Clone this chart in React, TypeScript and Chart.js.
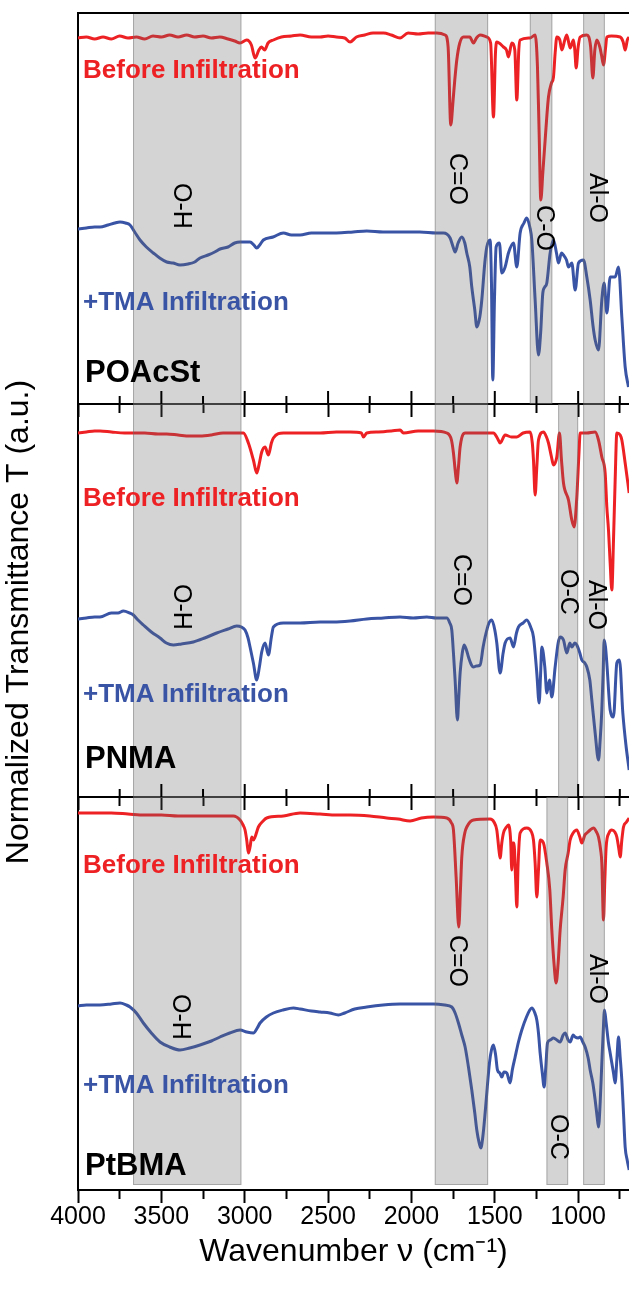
import React, { useEffect, useRef } from 'react';
import { Chart, registerables } from 'chart.js';

Chart.register(...registerables);

const W = 629;
const H = 1298;
const FONT = "'Liberation Sans', Arial, Helvetica, sans-serif";
const RED = '#ED2124';
const BLUE = '#3A54A5';

// ---- axes ----
const X_MIN = 695;
const X_MAX = 4000;
const X_TICKS = [4000, 3750, 3500, 3250, 3000, 2750, 2500, 2250, 2000, 1750, 1500, 1250, 1000, 750];
const X_LABELED = [4000, 3500, 3000, 2500, 2000, 1500, 1000];
const X_TITLE = 'Wavenumber ν (cm⁻¹)';
const Y_TITLE = 'Normalized Transmittance T (a.u.)';
const SERIES_LABELS = ['Before Infiltration', '+TMA Infiltration'];
const POLYMERS = ['POAcSt', 'PNMA', 'PtBMA'];

// ---- spectra: [wavenumber, normalized transmittance (a.u., per panel)] ----
const poacstBefore = [
  [4000,366],[3950,367],[3900,365],[3850,367],[3800,365],[3750,368],[3700,366],[3650,367],[3600,365],[3550,368],
  [3500,367],[3450,369],[3400,367],[3348,369],[3300,367],[3250,368],[3200,366],[3150,367],[3100,365],[3060,363],
  [3028,361],[2988,364],[2960,359],[2938,346],[2915,354],[2900,357],[2880,354],[2860,361],[2828,364],[2780,367],
  [2720,368],[2668,369],[2600,367],[2548,367],[2500,368],[2450,367],[2400,366],[2368,362],[2330,367],[2280,369],
  [2230,371],[2168,371],[2120,369],[2068,366],[2020,371],[1960,370],[1900,371],[1848,371],[1798,369],[1780,357],
  [1764,279],[1750,304],[1740,324],[1728,344],[1710,361],[1688,367],[1650,367],[1628,361],[1610,366],[1588,369],
  [1548,367],[1525,361],[1508,287],[1496,351],[1488,362],[1448,357],[1430,354],[1418,347],[1398,361],[1380,354],
  [1368,304],[1356,354],[1348,364],[1288,366],[1258,369],[1244,337],[1234,271],[1224,204],[1212,231],[1198,264],
  [1178,307],[1160,321],[1148,327],[1138,351],[1128,367],[1110,364],[1098,354],[1080,364],[1068,369],[1048,356],
  [1028,364],[1020,354],[1012,336],[1000,357],[988,367],[948,369],[925,357],[912,326],[900,354],[888,364],
  [870,357],[860,349],[848,339],[835,357],[828,367],[800,368],[748,367],[730,362],[718,354],[705,364],[694,367],
];
const poacstTma = [
  [4000,175],[3950,176],[3900,177],[3868,177],[3820,179],[3780,181],[3748,182],[3715,181],[3688,179],[3660,172],
  [3628,164],[3590,157],[3548,151],[3510,146],[3468,142],[3430,141],[3388,139],[3340,140],[3300,142],[3268,146],
  [3220,149],[3180,152],[3148,155],[3100,157],[3060,161],[3028,162],[2968,162],[2945,159],[2928,156],[2910,159],
  [2888,164],[2830,167],[2768,171],[2720,169],[2668,169],[2600,171],[2548,171],[2450,171],[2350,172],[2268,173],
  [2170,172],[2068,172],[1950,172],[1850,171],[1808,171],[1768,166],[1750,157],[1738,152],[1720,161],[1698,167],
  [1680,161],[1668,151],[1650,137],[1638,117],[1620,94],[1608,77],[1590,87],[1578,104],[1560,141],[1548,157],
  [1528,164],[1520,121],[1512,24],[1502,104],[1492,157],[1472,161],[1458,131],[1438,137],[1418,151],[1388,161],
  [1368,137],[1348,171],[1325,181],[1308,186],[1290,177],[1278,164],[1258,104],[1238,49],[1225,71],[1212,111],
  [1200,117],[1188,121],[1168,151],[1148,164],[1130,151],[1118,141],[1100,151],[1088,149],[1070,144],[1058,137],
  [1038,141],[1018,114],[998,141],[968,144],[948,127],[928,104],[910,77],[898,64],[878,54],[858,104],
  [844,121],[828,91],[808,127],[778,127],[758,137],[738,87],[718,37],[698,17],
];
const pnmaBefore = [
  [4000,364],[3950,365],[3900,366],[3868,366],[3800,365],[3720,364],[3668,364],[3600,364],[3520,363],[3468,363],
  [3400,362],[3330,361],[3268,361],[3200,362],[3130,364],[3068,364],[3008,364],[2978,354],[2948,337],[2928,324],
  [2912,334],[2898,345],[2878,350],[2858,342],[2840,354],[2828,359],[2768,364],[2668,364],[2548,364],[2450,365],
  [2368,365],[2300,364],[2288,360],[2268,364],[2200,365],[2120,366],[2068,367],[2048,364],[1960,366],[1868,366],
  [1788,364],[1760,357],[1748,344],[1736,324],[1728,314],[1718,330],[1708,350],[1678,364],[1600,364],[1508,364],
  [1485,359],[1468,354],[1438,362],[1400,360],[1368,360],[1330,364],[1288,365],[1275,354],[1268,337],[1258,302],
  [1248,330],[1238,357],[1208,365],[1190,360],[1178,354],[1160,340],[1148,332],[1128,340],[1112,364],[1100,337],
  [1088,314],[1058,297],[1038,277],[1024,270],[1008,300],[995,344],[988,364],[948,364],[898,365],[878,357],
  [858,340],[838,324],[828,290],[818,267],[808,234],[798,207],[788,257],[778,317],[768,364],[748,362],
  [738,357],[718,334],[694,304],
];
const pnmaTma = [
  [4000,178],[3950,179],[3900,180],[3868,180],[3800,184],[3760,184],[3728,186],[3690,184],[3668,182],[3640,177],
  [3608,172],[3560,165],[3508,159],[3470,154],[3428,152],[3380,153],[3308,155],[3240,159],[3168,164],[3100,168],
  [3048,171],[3020,170],[2998,167],[2980,159],[2968,150],[2948,134],[2928,117],[2912,130],[2898,145],[2878,154],
  [2858,142],[2840,160],[2828,170],[2768,174],[2668,174],[2548,175],[2468,175],[2368,176],[2268,178],[2168,179],
  [2068,180],[1990,179],[1908,180],[1850,179],[1788,179],[1770,174],[1758,167],[1748,144],[1738,117],[1724,77],
  [1716,100],[1708,124],[1695,144],[1684,152],[1670,147],[1658,140],[1640,132],[1628,130],[1610,131],[1588,132],
  [1570,150],[1558,160],[1535,174],[1518,177],[1500,167],[1488,154],[1468,124],[1450,144],[1438,154],[1408,159],
  [1388,150],[1370,164],[1358,170],[1330,174],[1308,177],[1285,170],[1268,160],[1248,124],[1234,94],[1225,124],
  [1218,150],[1200,130],[1188,104],[1172,117],[1158,100],[1138,130],[1120,154],[1108,160],[1088,157],[1068,144],
  [1050,154],[1038,150],[1020,154],[1008,152],[990,144],[978,137],[960,134],[948,130],[930,117],[918,97],
  [898,64],[878,37],[868,57],[858,87],[850,124],[844,157],[836,150],[828,134],[808,87],[788,80],
  [768,134],[752,137],[732,84],[712,50],[694,27],
];
const ptbmaBefore = [
  [4000,377],[3950,377],[3900,377],[3800,377],[3700,376],[3600,375],[3500,375],[3400,374],[3300,374],[3200,374],
  [3100,374],[3068,374],[3028,370],[3010,365],[2998,360],[2988,350],[2978,337],[2968,343],[2958,353],[2948,350],
  [2938,353],[2918,363],[2890,369],[2868,372],[2768,374],[2668,377],[2548,376],[2450,375],[2368,375],[2250,374],
  [2148,372],[2080,371],[2008,369],[1940,372],[1868,373],[1788,372],[1760,367],[1748,360],[1732,313],[1716,263],
  [1706,300],[1698,333],[1680,357],[1668,363],[1628,370],[1528,371],[1505,368],[1488,360],[1475,340],[1468,332],
  [1458,347],[1448,357],[1430,363],[1418,365],[1405,350],[1398,320],[1392,347],[1385,347],[1375,310],[1368,283],
  [1360,327],[1348,357],[1308,362],[1280,358],[1268,350],[1258,327],[1248,293],[1238,320],[1228,350],[1208,347],
  [1188,327],[1170,300],[1158,260],[1145,227],[1132,207],[1120,227],[1108,260],[1090,293],[1078,320],[1060,337],
  [1048,350],[1030,357],[1008,360],[990,353],[978,347],[960,355],[948,357],[928,360],[908,362],[890,358],
  [878,353],[865,340],[858,327],[848,270],[840,310],[832,343],[815,357],[798,360],[780,358],[768,353],
  [755,340],[748,333],[738,350],[728,363],[710,368],[694,372],
];
const ptbmaTma = [
  [4000,184],[3950,185],[3900,185],[3868,185],[3800,186],[3748,187],[3710,185],[3688,183],[3650,177],[3608,167],
  [3560,157],[3508,148],[3450,143],[3388,140],[3330,142],[3268,145],[3200,149],[3148,153],[3090,157],[3028,160],
  [2988,158],[2948,157],[2925,162],[2908,167],[2870,173],[2828,177],[2770,180],[2708,182],[2668,181],[2600,179],
  [2548,178],[2490,177],[2438,175],[2400,177],[2340,181],[2268,183],[2170,185],[2068,186],[1968,186],[1868,186],
  [1800,185],[1758,183],[1738,177],[1718,167],[1698,155],[1678,143],[1658,123],[1638,100],[1620,77],[1608,60],
  [1595,48],[1584,42],[1572,53],[1558,77],[1545,103],[1532,127],[1520,140],[1508,145],[1495,135],[1484,120],
  [1470,117],[1458,113],[1445,118],[1428,117],[1408,107],[1395,120],[1378,133],[1358,148],[1338,160],[1310,173],
  [1290,180],[1278,182],[1262,178],[1248,170],[1238,157],[1228,137],[1215,117],[1204,103],[1194,123],[1184,147],
  [1168,150],[1148,152],[1128,150],[1108,148],[1090,155],[1078,157],[1060,150],[1048,148],[1030,155],[1018,153],
  [1000,152],[988,153],[972,148],[958,143],[940,132],[928,120],[912,107],[898,90],[886,73],[878,63],
  [868,87],[858,127],[850,157],[842,180],[832,167],[818,147],[808,137],[798,127],[788,117],[778,107],
  [768,130],[758,153],[748,133],[738,110],[728,77],[718,43],[706,30],[694,20],
];

// ---- highlighted absorption bands [from, to] in cm^-1 ----
const bandsPOAcSt = [[3670, 3020], [1860, 1540], [1290, 1155], [970, 840]];
const bandsPNMA = [[3670, 3020], [1860, 1540], [1120, 1000], [970, 840]];
const bandsPtBMA = [[3670, 3020], [1860, 1540], [1190, 1060], [970, 840]];
const bondNamesPOAcSt = ['O-H', 'C=O', 'C-O', 'Al-O'];
const bondNamesPNMA = ['O-H', 'C=O', 'O-C', 'Al-O'];
const bondNamesPtBMA = ['O-H', 'C=O', 'O-C', 'Al-O'];

// ---- annotation anchors (data coords) ----
const bondAnchorsPOAcSt = [[3382, 198], [1726, 225], [1204, 176], [886, 206]];
const bondAnchorsPNMA = [[3382, 190], [1702, 217], [1060, 205], [892, 192]];
const bondAnchorsPtBMA = [[3388, 173], [1726, 229], [1120, 53], [886, 211]];
const textAnchorsPOAcSt = [[3970, 326], [3970, 94], [3958, 22]];
const textAnchorsPNMA = [[3970, 291], [3970, 95], [3958, 29]];
const textAnchorsPtBMA = [[3970, 317], [3970, 97], [3958, 15]];

interface PanelSpec {
  name: string;
  before: number[][];
  tma: number[][];
  bands: number[][];
  bondNames: string[];
  bondAnchors: number[][];
  textAnchors: number[][];
  yMax: number;
  padTop: number;
  padBottom: number;
  axisH: number;
  last: boolean;
  bandInset: number;
}

const PANELS: PanelSpec[] = [
  { name: POLYMERS[0], before: poacstBefore, tma: poacstTma, bands: bandsPOAcSt, bondNames: bondNamesPOAcSt,
    bondAnchors: bondAnchorsPOAcSt, textAnchors: textAnchorsPOAcSt, yMax: 391, padTop: 13, padBottom: H - 404 - 16,
    axisH: 16, last: false, bandInset: 0 },
  { name: POLYMERS[1], before: pnmaBefore, tma: pnmaTma, bands: bandsPNMA, bondNames: bondNamesPNMA,
    bondAnchors: bondAnchorsPNMA, textAnchors: textAnchorsPNMA, yMax: 393, padTop: 404, padBottom: H - 797 - 16,
    axisH: 16, last: false, bandInset: 0 },
  { name: POLYMERS[2], before: ptbmaBefore, tma: ptbmaTma, bands: bandsPtBMA, bondNames: bondNamesPtBMA,
    bondAnchors: bondAnchorsPtBMA, textAnchors: textAnchorsPtBMA, yMax: 393, padTop: 797, padBottom: 0,
    axisH: H - 1190, last: true, bandInset: 5 },
];

const isMajor = (v: number) => X_LABELED.includes(v);

function makeDecor(spec: PanelSpec, index: number) {
  return {
    id: 'decor' + index,
    afterDatasetsDraw(chart: any) {
      const { ctx, chartArea: a, scales } = chart;
      const x = scales.x;
      const y = scales.y;
      ctx.save();
      // bands
      for (const [from, to] of spec.bands) {
        const x1 = x.getPixelForValue(from);
        const x2 = x.getPixelForValue(to);
        const top = a.top;
        const bottom = a.bottom - spec.bandInset;
        ctx.fillStyle = 'rgba(100,100,100,0.28)';
        ctx.fillRect(x1, top, x2 - x1, bottom - top);
        ctx.strokeStyle = 'rgba(110,110,110,0.45)';
        ctx.lineWidth = 1;
        ctx.strokeRect(x1 + 0.5, top + 0.5, x2 - x1 - 1, bottom - top - 1);
      }
      // bond labels (rotated)
      ctx.fillStyle = '#000';
      ctx.font = `25px ${FONT}`;
      ctx.textAlign = 'center';
      ctx.textBaseline = 'middle';
      spec.bondNames.forEach((t, i) => {
        const [bx, by] = spec.bondAnchors[i];
        ctx.save();
        ctx.translate(x.getPixelForValue(bx), y.getPixelForValue(by));
        ctx.rotate(Math.PI / 2);
        ctx.fillText(t, 0, 0);
        ctx.restore();
      });
      // series + polymer labels
      ctx.textAlign = 'left';
      ctx.textBaseline = 'alphabetic';
      const texts = [
        { t: SERIES_LABELS[0], c: RED, f: `bold 26px ${FONT}` },
        { t: SERIES_LABELS[1], c: BLUE, f: `bold 26px ${FONT}` },
        { t: spec.name, c: '#000', f: `bold 31px ${FONT}` },
      ];
      texts.forEach((o, i) => {
        const [tx, ty] = spec.textAnchors[i];
        ctx.fillStyle = o.c;
        ctx.font = o.f;
        ctx.fillText(o.t, x.getPixelForValue(tx), y.getPixelForValue(ty));
      });
      // inner ticks and top frame
      ctx.strokeStyle = '#000';
      ctx.lineWidth = 2;
      if (!spec.last) {
        for (const tk of x.ticks) {
          const px = x.getPixelForValue(tk.value);
          const len = isMajor(tk.value) ? 13 : 8;
          ctx.beginPath();
          ctx.moveTo(px, a.bottom);
          ctx.lineTo(px, a.bottom - len);
          ctx.stroke();
        }
      }
      if (index === 0) {
        ctx.beginPath();
        ctx.moveTo(a.left - 1, a.top);
        ctx.lineTo(a.right, a.top);
        ctx.stroke();
      }
      ctx.restore();
    },
    afterDraw(chart: any) {
      if (!spec.last) return;
      const { ctx } = chart;
      ctx.save();
      ctx.fillStyle = '#000';
      ctx.font = `32px ${FONT}`;
      ctx.textAlign = 'center';
      ctx.textBaseline = 'middle';
      ctx.translate(19, 622);
      ctx.rotate(-Math.PI / 2);
      ctx.fillText(Y_TITLE, 0, 0);
      ctx.restore();
    },
  };
}

function Panel({ spec, index }: { spec: PanelSpec; index: number }) {
  const ref = useRef<HTMLCanvasElement>(null);
  useEffect(() => {
    const toPts = (arr: number[][]) => arr.map(([x, y]) => ({ x, y }));
    const chart = new Chart(ref.current as HTMLCanvasElement, {
      type: 'line',
      data: {
        datasets: [
          { label: SERIES_LABELS[0], data: toPts(spec.before), borderColor: RED, borderWidth: 3, pointRadius: 0,
            cubicInterpolationMode: 'monotone', fill: false },
          { label: SERIES_LABELS[1], data: toPts(spec.tma), borderColor: BLUE, borderWidth: 3, pointRadius: 0,
            cubicInterpolationMode: 'monotone', fill: false },
        ],
      } as any,
      options: {
        responsive: false,
        animation: false,
        devicePixelRatio: 1,
        events: [],
        layout: { padding: { left: 78, right: 0, top: spec.padTop, bottom: spec.padBottom } },
        plugins: { legend: { display: false }, tooltip: { enabled: false }, title: { display: false } },
        scales: {
          x: {
            type: 'linear',
            reverse: true,
            min: X_MIN,
            max: X_MAX,
            afterBuildTicks: (s: any) => { s.ticks = X_TICKS.map((v) => ({ value: v })); },
            afterFit: (s: any) => { s.height = spec.axisH; },
            border: { display: true, color: '#000', width: 2 },
            grid: {
              display: true, drawOnChartArea: false, drawTicks: true, tickLength: 13, tickWidth: 2, tickColor: '#000',
              tickBorderDash: (c: any) => (c.tick && !isMajor(c.tick.value) ? [8, 100] : []),
            },
            ticks: {
              display: spec.last, autoSkip: false, maxRotation: 0, minRotation: 0,
              padding: -1, color: '#000', font: { family: FONT, size: 25 },
              callback: (v: any) => (isMajor(Number(v)) ? String(v) : ''),
            },
            title: { display: spec.last, text: X_TITLE, color: '#000', font: { family: FONT, size: 32 },
              padding: { top: 0, bottom: 27 } },
          },
          y: {
            min: 0,
            max: spec.yMax,
            afterFit: (s: any) => { s.width = 0; },
            border: { display: true, color: '#000', width: 2 },
            grid: { display: false },
            ticks: { display: false },
          },
        },
      } as any,
      plugins: [makeDecor(spec, index)],
    });
    return () => chart.destroy();
  }, [spec, index]);
  return (
    <canvas ref={ref} width={W} height={H}
      style={{ position: 'absolute', left: 0, top: 0, width: W, height: H }} />
  );
}

export default function App() {
  return (
    <div style={{ position: 'absolute', left: 0, top: 0, width: W, height: H, background: '#fff', overflow: 'hidden' }}>
      {PANELS.map((p, i) => <Panel key={p.name} spec={p} index={i} />)}
    </div>
  );
}
